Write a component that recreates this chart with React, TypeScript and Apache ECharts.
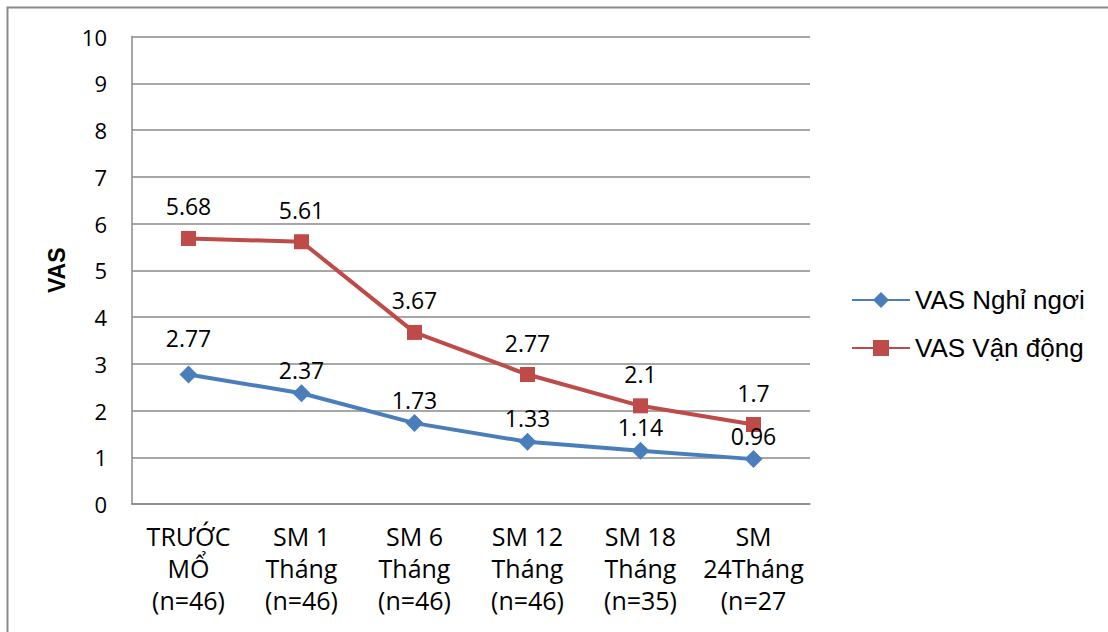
import React, { useEffect, useRef } from "react";
import * as echarts from "echarts";

const categories = [
  "TRƯỚC\nMỔ\n(n=46)",
  "SM 1\nTháng\n(n=46)",
  "SM 6\nTháng\n(n=46)",
  "SM 12\nTháng\n(n=46)",
  "SM 18\nTháng\n(n=35)",
  "SM\n24Tháng\n(n=27",
];
const restValues = [2.77, 2.37, 1.73, 1.33, 1.14, 0.96];
const moveValues = [5.68, 5.61, 3.67, 2.77, 2.1, 1.7];
const restName = "VAS Nghỉ ngơi";
const moveName = "VAS Vận động";
const yTicks = { min: 0, max: 10, interval: 1 };

export default function App() {
  const ref = useRef<HTMLDivElement>(null);
  useEffect(() => {
    if (!ref.current) return;
    const chart = echarts.init(ref.current, null, { renderer: "svg" });
    const font = "'Open Sans', sans-serif";
    chart.setOption({
      animation: false,
      backgroundColor: "#fff",
      graphic: [
        {
          type: "rect",
          shape: { x: 7.5, y: 7.5, width: 1200, height: 700 },
          style: { fill: "none", stroke: "#8a8a8a", lineWidth: 2 },
          silent: true,
        },
      ],
      grid: { left: 132, right: 298, top: 36.5, bottom: 128, containLabel: false },
      legend: {
        orient: "vertical",
        left: 846,
        top: 282,
        itemWidth: 58,
        itemHeight: 20,
        itemGap: 22,
        textStyle: { fontFamily: "'Liberation Sans', Arial, sans-serif", fontSize: 26, color: "#000", lineHeight: 26 },
        data: [restName, moveName],
      },
      xAxis: {
        type: "category",
        data: categories,
        boundaryGap: true,
        axisLine: { lineStyle: { color: "#8a8a8a", width: 1.5 } },
        axisTick: { show: false },
        axisLabel: {
          color: "#000",
          fontFamily: font,
          fontSize: 25,
          lineHeight: 32,
          margin: 16,
          interval: 0,
        },
      },
      yAxis: {
        type: "value",
        min: yTicks.min,
        max: yTicks.max,
        interval: yTicks.interval,
        name: "VAS",
        nameLocation: "middle",
        nameGap: 64,
        nameTextStyle: { fontFamily: "'Liberation Sans', Arial, sans-serif", fontWeight: "bold", fontSize: 23, color: "#000" },
        axisLine: { show: true, lineStyle: { color: "#8a8a8a", width: 1.5 } },
        axisTick: { show: false },
        splitLine: { lineStyle: { color: "#8a8a8a", width: 1.5 } },
        axisLabel: { color: "#000", fontFamily: font, fontSize: 22, margin: 25 },
      },
      series: [
        {
          name: restName,
          type: "line",
          data: restValues.map((v, i) =>
            i === 0 ? { value: v, label: { distance: 16 } } : v
          ),
          color: "#4A7EBB",
          symbol: "diamond",
          symbolSize: 18,
          lineStyle: { width: 4, color: "#4A7EBB" },
          itemStyle: { color: "#4A7EBB" },
          label: {
            show: true,
            position: "top",
            distance: 3,
            color: "#000",
            fontFamily: font,
            fontSize: 23,
          },
          z: 3,
        },
        {
          name: moveName,
          type: "line",
          data: moveValues,
          color: "#BE4B48",
          symbol: "rect",
          symbolSize: 15,
          lineStyle: { width: 4, color: "#BE4B48" },
          itemStyle: { color: "#BE4B48" },
          label: {
            show: true,
            position: "top",
            distance: 13,
            color: "#000",
            fontFamily: font,
            fontSize: 23,
          },
          z: 2,
        },
      ],
    });
    return () => chart.dispose();
  }, []);
  return <div ref={ref} style={{ width: 1108, height: 632, position: "absolute", left: 0, top: 0 }} />;
}
